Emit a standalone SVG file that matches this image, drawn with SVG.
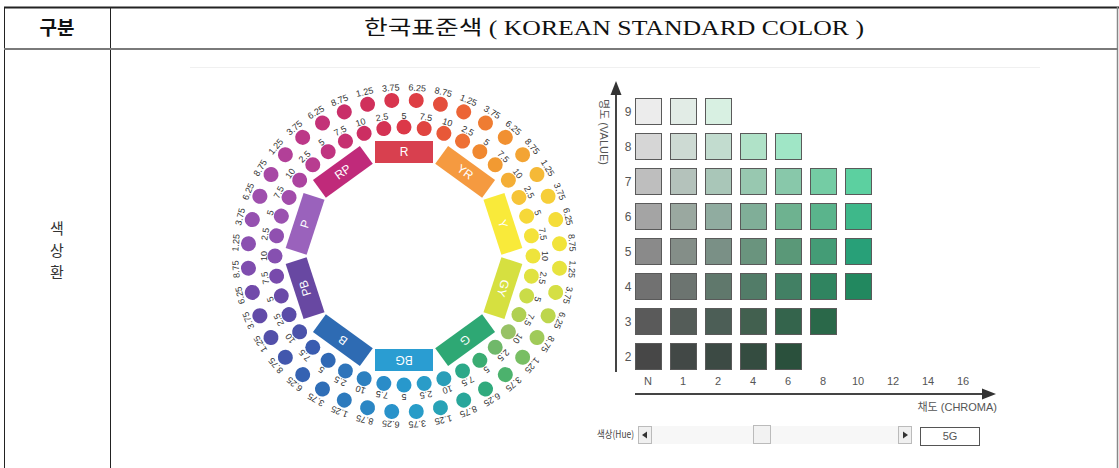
<svg xmlns="http://www.w3.org/2000/svg" width="1119" height="468" viewBox="0 0 1119 468">
<style>
.hd{font-family:"Liberation Serif","Noto Sans CJK KR",serif;font-size:20px;fill:#111;text-anchor:middle}
.lc{font-family:"Noto Sans CJK KR","Liberation Sans",sans-serif;font-size:15px;fill:#333;text-anchor:middle}
.lb{font-family:"Liberation Sans",Arial,sans-serif;font-size:9px;fill:#333;text-anchor:middle}
.bx{font-family:"Liberation Sans",Arial,sans-serif;font-size:12px;fill:#fff;text-anchor:middle}
.sw{stroke:#5a5a5a;stroke-width:1}
.ax{font-family:"Liberation Sans","Noto Sans CJK KR",sans-serif;font-size:11px;fill:#555;text-anchor:middle}
.rl{font-family:"Liberation Sans",Arial,sans-serif;font-size:12px;fill:#555;text-anchor:middle}
</style>
<rect width="1119" height="468" fill="#fff"/>
<g id="table">
<line x1="4" y1="7.5" x2="1119" y2="7.5" stroke="#222" stroke-width="2"/>
<line x1="4.5" y1="7" x2="4.5" y2="468" stroke="#222" stroke-width="1"/>
<line x1="110.5" y1="7" x2="110.5" y2="468" stroke="#222" stroke-width="1"/>
<line x1="1117.5" y1="7" x2="1117.5" y2="468" stroke="#888" stroke-width="1.5"/>
<line x1="4" y1="49" x2="1118" y2="49" stroke="#7a7a7a" stroke-width="2"/>
<line x1="190" y1="67.5" x2="1040" y2="67.5" stroke="#f0f0f0" stroke-width="1"/>
</g>
<g id="header-left"><text x="57" y="35" style="font-family:'Noto Sans CJK KR',sans-serif;font-size:19px;font-weight:700;fill:#111;text-anchor:middle">구분</text></g>
<g id="header-right"><text class="hd" x="614" y="35" textLength="500" lengthAdjust="spacingAndGlyphs">한국표준색 ( KOREAN STANDARD COLOR )</text></g>
<g id="row-label">
<text class="lc" x="57" y="234">색</text>
<text class="lc" x="57" y="256">상</text>
<text class="lc" x="57" y="278">환</text>
</g>
<g id="wheel" transform="translate(404 256)">
<g id="hue-R">
<g transform="rotate(0)"><rect x="-29" y="-115" width="58" height="22" fill="#d8404f"/><text class="bx" y="-100">R</text></g>
<g transform="rotate(-9)"><circle cy="-129" r="7.5" fill="#d43254"/><text class="lb" y="-137.5">2.5</text></g>
<g transform="rotate(0)"><circle cy="-129" r="7.5" fill="#dc3848"/><text class="lb" y="-137.5">5</text></g>
<g transform="rotate(9)"><circle cy="-129" r="7.5" fill="#e04440"/><text class="lb" y="-137.5">7.5</text></g>
<g transform="rotate(18)"><circle cy="-129" r="7.5" fill="#e85838"/><text class="lb" y="-137.5">10</text></g>
<g transform="rotate(-13.5)"><circle cy="-156" r="7.5" fill="#d0305b"/><text class="lb" y="-165.5">1.25</text></g>
<g transform="rotate(-4.5)"><circle cy="-156" r="7.5" fill="#d8354e"/><text class="lb" y="-165.5">3.75</text></g>
<g transform="rotate(4.5)"><circle cy="-156" r="7.5" fill="#de3e44"/><text class="lb" y="-165.5">6.25</text></g>
<g transform="rotate(13.5)"><circle cy="-156" r="7.5" fill="#e44e3c"/><text class="lb" y="-165.5">8.75</text></g>
</g>
<g id="hue-YR">
<g transform="rotate(36)"><rect x="-29" y="-115" width="58" height="22" fill="#f59a40"/><text class="bx" y="-100">YR</text></g>
<g transform="rotate(27)"><circle cy="-129" r="7.5" fill="#ee7034"/><text class="lb" y="-137.5">2.5</text></g>
<g transform="rotate(36)"><circle cy="-129" r="7.5" fill="#f08830"/><text class="lb" y="-137.5">5</text></g>
<g transform="rotate(45)"><circle cy="-129" r="7.5" fill="#f29a32"/><text class="lb" y="-137.5">7.5</text></g>
<g transform="rotate(54)"><circle cy="-129" r="7.5" fill="#f4ae36"/><text class="lb" y="-137.5">10</text></g>
<g transform="rotate(22.5)"><circle cy="-156" r="7.5" fill="#ec6436"/><text class="lb" y="-165.5">1.25</text></g>
<g transform="rotate(31.5)"><circle cy="-156" r="7.5" fill="#ef7c32"/><text class="lb" y="-165.5">3.75</text></g>
<g transform="rotate(40.5)"><circle cy="-156" r="7.5" fill="#f19031"/><text class="lb" y="-165.5">6.25</text></g>
<g transform="rotate(49.5)"><circle cy="-156" r="7.5" fill="#f3a434"/><text class="lb" y="-165.5">8.75</text></g>
</g>
<g id="hue-Y">
<g transform="rotate(72)"><rect x="-29" y="-115" width="58" height="22" fill="#f9ea3a"/><text class="bx" y="-100">Y</text></g>
<g transform="rotate(63)"><circle cy="-129" r="7.5" fill="#f6c438"/><text class="lb" y="-137.5">2.5</text></g>
<g transform="rotate(72)"><circle cy="-129" r="7.5" fill="#f6d838"/><text class="lb" y="-137.5">5</text></g>
<g transform="rotate(81)"><circle cy="-129" r="7.5" fill="#f4e23a"/><text class="lb" y="-137.5">7.5</text></g>
<g transform="rotate(90)"><circle cy="-129" r="7.5" fill="#eee43c"/><text class="lb" y="-137.5">10</text></g>
<g transform="rotate(58.5)"><circle cy="-156" r="7.5" fill="#f5b937"/><text class="lb" y="-165.5">1.25</text></g>
<g transform="rotate(67.5)"><circle cy="-156" r="7.5" fill="#f6ce38"/><text class="lb" y="-165.5">3.75</text></g>
<g transform="rotate(76.5)"><circle cy="-156" r="7.5" fill="#f5dd39"/><text class="lb" y="-165.5">6.25</text></g>
<g transform="rotate(85.5)"><circle cy="-156" r="7.5" fill="#f1e33b"/><text class="lb" y="-165.5">8.75</text></g>
</g>
<g id="hue-GY">
<g transform="rotate(108)"><rect x="-29" y="-115" width="58" height="22" fill="#d6e040"/><text class="bx" y="-100">GY</text></g>
<g transform="rotate(99)"><circle cy="-129" r="7.5" fill="#e0e240"/><text class="lb" y="-137.5">2.5</text></g>
<g transform="rotate(108)"><circle cy="-129" r="7.5" fill="#cadc48"/><text class="lb" y="-137.5">5</text></g>
<g transform="rotate(117)"><circle cy="-129" r="7.5" fill="#b0d052"/><text class="lb" y="-137.5">7.5</text></g>
<g transform="rotate(126)"><circle cy="-129" r="7.5" fill="#98c266"/><text class="lb" y="-137.5">10</text></g>
<g transform="rotate(94.5)"><circle cy="-156" r="7.5" fill="#e7e33e"/><text class="lb" y="-165.5">1.25</text></g>
<g transform="rotate(103.5)"><circle cy="-156" r="7.5" fill="#d5df44"/><text class="lb" y="-165.5">3.75</text></g>
<g transform="rotate(112.5)"><circle cy="-156" r="7.5" fill="#bdd64d"/><text class="lb" y="-165.5">6.25</text></g>
<g transform="rotate(121.5)"><circle cy="-156" r="7.5" fill="#a0ca59"/><text class="lb" y="-165.5">8.75</text></g>
</g>
<g id="hue-G">
<g transform="rotate(144)"><rect x="-29" y="-115" width="58" height="22" fill="#2ea874"/><text class="bx" y="-100">G</text></g>
<g transform="rotate(135)"><circle cy="-129" r="7.5" fill="#70b86a"/><text class="lb" y="-137.5">2.5</text></g>
<g transform="rotate(144)"><circle cy="-129" r="7.5" fill="#3aac72"/><text class="lb" y="-137.5">5</text></g>
<g transform="rotate(153)"><circle cy="-129" r="7.5" fill="#2ca888"/><text class="lb" y="-137.5">7.5</text></g>
<g transform="rotate(162)"><circle cy="-129" r="7.5" fill="#2a9eb8"/><text class="lb" y="-137.5">10</text></g>
<g transform="rotate(130.5)"><circle cy="-156" r="7.5" fill="#78be64"/><text class="lb" y="-165.5">1.25</text></g>
<g transform="rotate(139.5)"><circle cy="-156" r="7.5" fill="#4cb26d"/><text class="lb" y="-165.5">3.75</text></g>
<g transform="rotate(148.5)"><circle cy="-156" r="7.5" fill="#31aa7d"/><text class="lb" y="-165.5">6.25</text></g>
<g transform="rotate(157.5)"><circle cy="-156" r="7.5" fill="#29a69a"/><text class="lb" y="-165.5">8.75</text></g>
</g>
<g id="hue-BG">
<g transform="rotate(180)"><rect x="-29" y="-115" width="58" height="22" fill="#2a9dd2"/><text class="bx" y="-100">BG</text></g>
<g transform="rotate(171)"><circle cy="-129" r="7.5" fill="#2a9cc8"/><text class="lb" y="-137.5">2.5</text></g>
<g transform="rotate(180)"><circle cy="-129" r="7.5" fill="#2898cc"/><text class="lb" y="-137.5">5</text></g>
<g transform="rotate(189)"><circle cy="-129" r="7.5" fill="#2a8cc8"/><text class="lb" y="-137.5">7.5</text></g>
<g transform="rotate(198)"><circle cy="-129" r="7.5" fill="#2c80c0"/><text class="lb" y="-137.5">10</text></g>
<g transform="rotate(166.5)"><circle cy="-156" r="7.5" fill="#28a2b6"/><text class="lb" y="-165.5">1.25</text></g>
<g transform="rotate(175.5)"><circle cy="-156" r="7.5" fill="#289cc8"/><text class="lb" y="-165.5">3.75</text></g>
<g transform="rotate(184.5)"><circle cy="-156" r="7.5" fill="#2992ca"/><text class="lb" y="-165.5">6.25</text></g>
<g transform="rotate(193.5)"><circle cy="-156" r="7.5" fill="#2b86c4"/><text class="lb" y="-165.5">8.75</text></g>
</g>
<g id="hue-B">
<g transform="rotate(216)"><rect x="-29" y="-115" width="58" height="22" fill="#2e6bb3"/><text class="bx" y="-100">B</text></g>
<g transform="rotate(207)"><circle cy="-129" r="7.5" fill="#2e74ba"/><text class="lb" y="-137.5">2.5</text></g>
<g transform="rotate(216)"><circle cy="-129" r="7.5" fill="#3068b4"/><text class="lb" y="-137.5">5</text></g>
<g transform="rotate(225)"><circle cy="-129" r="7.5" fill="#3a5cb0"/><text class="lb" y="-137.5">7.5</text></g>
<g transform="rotate(234)"><circle cy="-129" r="7.5" fill="#4a52aa"/><text class="lb" y="-137.5">10</text></g>
<g transform="rotate(202.5)"><circle cy="-156" r="7.5" fill="#2d7abd"/><text class="lb" y="-165.5">1.25</text></g>
<g transform="rotate(211.5)"><circle cy="-156" r="7.5" fill="#2f6eb7"/><text class="lb" y="-165.5">3.75</text></g>
<g transform="rotate(220.5)"><circle cy="-156" r="7.5" fill="#3562b2"/><text class="lb" y="-165.5">6.25</text></g>
<g transform="rotate(229.5)"><circle cy="-156" r="7.5" fill="#4257ad"/><text class="lb" y="-165.5">8.75</text></g>
</g>
<g id="hue-PB">
<g transform="rotate(252)"><rect x="-29" y="-115" width="58" height="22" fill="#6848a2"/><text class="bx" y="-100">PB</text></g>
<g transform="rotate(243)"><circle cy="-129" r="7.5" fill="#5a4ca8"/><text class="lb" y="-137.5">2.5</text></g>
<g transform="rotate(252)"><circle cy="-129" r="7.5" fill="#6a4aa8"/><text class="lb" y="-137.5">5</text></g>
<g transform="rotate(261)"><circle cy="-129" r="7.5" fill="#784aac"/><text class="lb" y="-137.5">7.5</text></g>
<g transform="rotate(270)"><circle cy="-129" r="7.5" fill="#8650b0"/><text class="lb" y="-137.5">10</text></g>
<g transform="rotate(238.5)"><circle cy="-156" r="7.5" fill="#524fa9"/><text class="lb" y="-165.5">1.25</text></g>
<g transform="rotate(247.5)"><circle cy="-156" r="7.5" fill="#624ba8"/><text class="lb" y="-165.5">3.75</text></g>
<g transform="rotate(256.5)"><circle cy="-156" r="7.5" fill="#714aaa"/><text class="lb" y="-165.5">6.25</text></g>
<g transform="rotate(265.5)"><circle cy="-156" r="7.5" fill="#7f4dae"/><text class="lb" y="-165.5">8.75</text></g>
</g>
<g id="hue-P">
<g transform="rotate(288)"><rect x="-29" y="-115" width="58" height="22" fill="#9a62bc"/><text class="bx" y="-100">P</text></g>
<g transform="rotate(279)"><circle cy="-129" r="7.5" fill="#9050b0"/><text class="lb" y="-137.5">2.5</text></g>
<g transform="rotate(288)"><circle cy="-129" r="7.5" fill="#9a52b0"/><text class="lb" y="-137.5">5</text></g>
<g transform="rotate(297)"><circle cy="-129" r="7.5" fill="#a24caa"/><text class="lb" y="-137.5">7.5</text></g>
<g transform="rotate(306)"><circle cy="-129" r="7.5" fill="#ac44a0"/><text class="lb" y="-137.5">10</text></g>
<g transform="rotate(274.5)"><circle cy="-156" r="7.5" fill="#8b50b0"/><text class="lb" y="-165.5">1.25</text></g>
<g transform="rotate(283.5)"><circle cy="-156" r="7.5" fill="#9551b0"/><text class="lb" y="-165.5">3.75</text></g>
<g transform="rotate(292.5)"><circle cy="-156" r="7.5" fill="#9e4fad"/><text class="lb" y="-165.5">6.25</text></g>
<g transform="rotate(301.5)"><circle cy="-156" r="7.5" fill="#a748a5"/><text class="lb" y="-165.5">8.75</text></g>
</g>
<g id="hue-RP">
<g transform="rotate(324)"><rect x="-29" y="-115" width="58" height="22" fill="#c02a7a"/><text class="bx" y="-100">RP</text></g>
<g transform="rotate(315)"><circle cy="-129" r="7.5" fill="#b83c90"/><text class="lb" y="-137.5">2.5</text></g>
<g transform="rotate(324)"><circle cy="-129" r="7.5" fill="#c03480"/><text class="lb" y="-137.5">5</text></g>
<g transform="rotate(333)"><circle cy="-129" r="7.5" fill="#c63070"/><text class="lb" y="-137.5">7.5</text></g>
<g transform="rotate(342)"><circle cy="-129" r="7.5" fill="#cc2e62"/><text class="lb" y="-137.5">10</text></g>
<g transform="rotate(310.5)"><circle cy="-156" r="7.5" fill="#b24098"/><text class="lb" y="-165.5">1.25</text></g>
<g transform="rotate(319.5)"><circle cy="-156" r="7.5" fill="#bc3888"/><text class="lb" y="-165.5">3.75</text></g>
<g transform="rotate(328.5)"><circle cy="-156" r="7.5" fill="#c33278"/><text class="lb" y="-165.5">6.25</text></g>
<g transform="rotate(337.5)"><circle cy="-156" r="7.5" fill="#c92f69"/><text class="lb" y="-165.5">8.75</text></g>
</g>
</g>
<g id="chart-axes">
<line x1="616" y1="92" x2="616" y2="372" stroke="#444" stroke-width="2"/>
<polygon points="616,81 610.5,95 621.5,95" fill="#333"/>
<line x1="635" y1="394" x2="984" y2="394" stroke="#444" stroke-width="2"/>
<polygon points="996,394 982,388.5 982,399.5" fill="#333"/>
<text class="ax" transform="translate(600 132) rotate(90)">명도 (VALUE)</text>
<text class="ax" x="997" y="411" style="text-anchor:end">채도 (CHROMA)</text>
</g>
<g id="row-labels">
<text class="rl" x="628" y="116">9</text>
<text class="rl" x="628" y="151">8</text>
<text class="rl" x="628" y="186">7</text>
<text class="rl" x="628" y="221">6</text>
<text class="rl" x="628" y="256">5</text>
<text class="rl" x="628" y="291">4</text>
<text class="rl" x="628" y="326">3</text>
<text class="rl" x="628" y="361">2</text>
</g>
<g id="col-labels">
<text class="ax" x="648" y="385">N</text>
<text class="ax" x="683" y="385">1</text>
<text class="ax" x="718" y="385">2</text>
<text class="ax" x="753" y="385">4</text>
<text class="ax" x="788" y="385">6</text>
<text class="ax" x="823" y="385">8</text>
<text class="ax" x="858" y="385">10</text>
<text class="ax" x="893" y="385">12</text>
<text class="ax" x="928" y="385">14</text>
<text class="ax" x="963" y="385">16</text>
</g>
<g id="swatches" class="sw">
<rect x="635.5" y="98.5" width="26" height="26" fill="#ececec"/>
<rect x="670.5" y="98.5" width="26" height="26" fill="#e2ece6"/>
<rect x="705.5" y="98.5" width="26" height="26" fill="#d8f0e2"/>
<rect x="635.5" y="133.5" width="26" height="26" fill="#d6d6d6"/>
<rect x="670.5" y="133.5" width="26" height="26" fill="#cddad3"/>
<rect x="705.5" y="133.5" width="26" height="26" fill="#c2dccf"/>
<rect x="740.5" y="133.5" width="26" height="26" fill="#b0e2c8"/>
<rect x="775.5" y="133.5" width="26" height="26" fill="#a0e6c6"/>
<rect x="635.5" y="168.5" width="26" height="26" fill="#bebebe"/>
<rect x="670.5" y="168.5" width="26" height="26" fill="#b4c2bb"/>
<rect x="705.5" y="168.5" width="26" height="26" fill="#a9c6b8"/>
<rect x="740.5" y="168.5" width="26" height="26" fill="#98c8b0"/>
<rect x="775.5" y="168.5" width="26" height="26" fill="#88c8aa"/>
<rect x="810.5" y="168.5" width="26" height="26" fill="#74cca4"/>
<rect x="845.5" y="168.5" width="26" height="26" fill="#5cd0a0"/>
<rect x="635.5" y="203.5" width="26" height="26" fill="#a4a4a4"/>
<rect x="670.5" y="203.5" width="26" height="26" fill="#9aa8a0"/>
<rect x="705.5" y="203.5" width="26" height="26" fill="#90aca0"/>
<rect x="740.5" y="203.5" width="26" height="26" fill="#80ae98"/>
<rect x="775.5" y="203.5" width="26" height="26" fill="#6eb290"/>
<rect x="810.5" y="203.5" width="26" height="26" fill="#5ab48c"/>
<rect x="845.5" y="203.5" width="26" height="26" fill="#3eb88a"/>
<rect x="635.5" y="238.5" width="26" height="26" fill="#8a8a8a"/>
<rect x="670.5" y="238.5" width="26" height="26" fill="#848e88"/>
<rect x="705.5" y="238.5" width="26" height="26" fill="#7a9086"/>
<rect x="740.5" y="238.5" width="26" height="26" fill="#6a947e"/>
<rect x="775.5" y="238.5" width="26" height="26" fill="#5a9878"/>
<rect x="810.5" y="238.5" width="26" height="26" fill="#449c76"/>
<rect x="845.5" y="238.5" width="26" height="26" fill="#28a078"/>
<rect x="635.5" y="273.5" width="26" height="26" fill="#717171"/>
<rect x="670.5" y="273.5" width="26" height="26" fill="#6c7470"/>
<rect x="705.5" y="273.5" width="26" height="26" fill="#60786c"/>
<rect x="740.5" y="273.5" width="26" height="26" fill="#527c68"/>
<rect x="775.5" y="273.5" width="26" height="26" fill="#428064"/>
<rect x="810.5" y="273.5" width="26" height="26" fill="#308460"/>
<rect x="845.5" y="273.5" width="26" height="26" fill="#22885f"/>
<rect x="635.5" y="308.5" width="26" height="26" fill="#5a5a5a"/>
<rect x="670.5" y="308.5" width="26" height="26" fill="#545c58"/>
<rect x="705.5" y="308.5" width="26" height="26" fill="#4c5e56"/>
<rect x="740.5" y="308.5" width="26" height="26" fill="#42604f"/>
<rect x="775.5" y="308.5" width="26" height="26" fill="#34644c"/>
<rect x="810.5" y="308.5" width="26" height="26" fill="#2a6849"/>
<rect x="635.5" y="343.5" width="26" height="26" fill="#474747"/>
<rect x="670.5" y="343.5" width="26" height="26" fill="#424846"/>
<rect x="705.5" y="343.5" width="26" height="26" fill="#3c4a44"/>
<rect x="740.5" y="343.5" width="26" height="26" fill="#344c40"/>
<rect x="775.5" y="343.5" width="26" height="26" fill="#2a503c"/>
</g>
<g id="hue-slider">
<text x="634" y="438" textLength="37" lengthAdjust="spacingAndGlyphs" style="font-family:'Noto Sans CJK KR','Liberation Sans',sans-serif;font-size:10px;fill:#444;text-anchor:end">색상(Hue)</text>
<rect x="652" y="426" width="246" height="18" fill="#f7f7f7"/>
<rect x="638.5" y="426.5" width="13" height="17" fill="#f0f0f0" stroke="#bbb"/>
<polygon points="642,435 647,431.5 647,438.5" fill="#333"/>
<rect x="753.5" y="425.5" width="17" height="18" fill="#f2f2f2" stroke="#bbb"/>
<rect x="898.5" y="426.5" width="13" height="17" fill="#f0f0f0" stroke="#bbb"/>
<polygon points="908,435 903,431.5 903,438.5" fill="#333"/>
<rect x="920.5" y="427.5" width="59" height="18" fill="#fff" stroke="#555"/>
<text class="ax" x="950" y="440">5G</text>
</g>
</svg>
